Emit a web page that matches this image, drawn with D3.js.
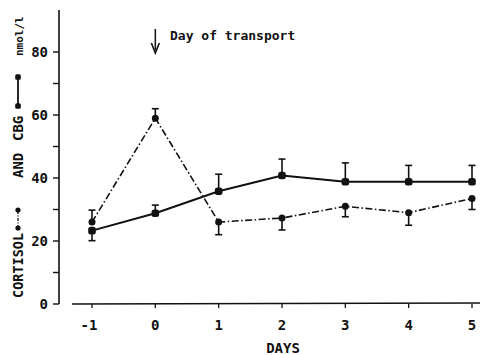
<!DOCTYPE html>
<html>
<head>
<meta charset="utf-8">
<script src="https://cdn.jsdelivr.net/npm/d3@7"></script>
<style>
  body { margin: 0; background: #fff; }
  text { font-family: "DejaVu Sans Mono", monospace; fill: #111; }
</style>
</head>
<body>
<div id="chart"></div>
<script>
var w = 480, h = 355;

// data
var days = [-1, 0, 1, 2, 3, 4, 5];
var cortisol = [26, 59, 26, 27.3, 31, 29, 33.5];
var cortisolErr = [3.8, 3, 4, 3.8, 3.3, 4, 3.5];
var cortisolErrDir = [1, 1, -1, -1, -1, -1, -1];
var cbg = [23.3, 28.8, 35.8, 40.8, 38.8, 38.8, 38.8];
var cbgErr = [3.2, 2.6, 5.4, 5.2, 6, 5.2, 5.2];
var cbgErrDir = [-1, 1, 1, 1, 1, 1, 1];
var yTicks = [0, 20, 40, 60, 80];
var yMinor = [10, 30, 50, 70];

var svg = d3.select('#chart').append('svg')
  .attr('width', w)
  .attr('height', h);

var x = d3.scaleLinear().domain([-1, 5]).range([92, 472]);
var y = d3.scaleLinear().domain([0, 80]).range([304, 52]);

// y axis
svg.append('line')
  .attr('x1', 59).attr('x2', 59)
  .attr('y1', 10).attr('y2', y(0))
  .attr('stroke', '#111').attr('stroke-width', 1.6);

svg.selectAll('.ytick')
  .data(yTicks.concat(yMinor))
  .enter().append('line')
  .attr('x1', 53).attr('x2', 59)
  .attr('y1', function(d) { return y(d); })
  .attr('y2', function(d) { return y(d); })
  .attr('stroke', '#111').attr('stroke-width', 1.4);

svg.selectAll('.ylab')
  .data(yTicks)
  .enter().append('text')
  .attr('x', 48)
  .attr('y', function(d) { return y(d) + 5; })
  .attr('text-anchor', 'end')
  .attr('font-size', 14)
  .attr('font-weight', 'bold')
  .text(function(d) { return d; });

// x axis, drawn apart from the y axis
svg.append('line')
  .attr('x1', 72).attr('x2', 480)
  .attr('y1', 304).attr('y2', 303)
  .attr('stroke', '#111').attr('stroke-width', 1.6);

svg.selectAll('.xtick')
  .data(days)
  .enter().append('line')
  .attr('x1', function(d) { return x(d); })
  .attr('x2', function(d) { return x(d); })
  .attr('y1', 304).attr('y2', 308)
  .attr('stroke', '#111').attr('stroke-width', 1.3);

svg.selectAll('.xlab')
  .data(days)
  .enter().append('text')
  .attr('x', function(d) { return x(d) - (d < 0 ? 3 : 0); })
  .attr('y', 330)
  .attr('text-anchor', 'middle')
  .attr('font-size', 14)
  .attr('font-weight', 'bold')
  .text(function(d) { return d < 0 ? '-' + Math.abs(d) : d; });

svg.append('text')
  .attr('x', 283).attr('y', 353)
  .attr('text-anchor', 'middle')
  .attr('font-size', 14)
  .attr('font-weight', 'bold')
  .text('DAYS');

// arrow and note
svg.append('line')
  .attr('x1', x(0)).attr('x2', x(0))
  .attr('y1', 29).attr('y2', 50)
  .attr('stroke', '#111').attr('stroke-width', 1.5);
svg.append('path')
  .attr('d', 'M' + (x(0) - 4) + ',43 L' + x(0) + ',53 L' + (x(0) + 4) + ',43')
  .attr('fill', 'none').attr('stroke', '#111').attr('stroke-width', 1.6);

svg.append('text')
  .attr('x', 170).attr('y', 40)
  .attr('font-size', 13)
  .attr('font-weight', 'bold')
  .text('Day of transport');

// error bars
function errBars(vals, errs, dirs) {
  var g = svg.append('g');
  days.forEach(function(d, i) {
    var y0 = y(vals[i]), y1 = y(vals[i] + dirs[i] * errs[i]);
    g.append('line')
      .attr('x1', x(d)).attr('x2', x(d))
      .attr('y1', y0).attr('y2', y1)
      .attr('stroke', '#111').attr('stroke-width', 1.6);
    g.append('line')
      .attr('x1', x(d) - 3.5).attr('x2', x(d) + 3.5)
      .attr('y1', y1).attr('y2', y1)
      .attr('stroke', '#111').attr('stroke-width', 1.6);
  });
}
errBars(cortisol, cortisolErr, cortisolErrDir);
errBars(cbg, cbgErr, cbgErrDir);

var line = d3.line()
  .x(function(d, i) { return x(days[i]); })
  .y(function(d) { return y(d); });

svg.append('path')
  .datum(cortisol)
  .attr('d', line)
  .attr('fill', 'none')
  .attr('stroke', '#111')
  .attr('stroke-width', 1.6)
  .attr('stroke-dasharray', '7,2.5,1.5,2.5');

svg.append('path')
  .datum(cbg)
  .attr('d', line)
  .attr('fill', 'none')
  .attr('stroke', '#111')
  .attr('stroke-width', 2);

svg.selectAll('.cdot')
  .data(cortisol)
  .enter().append('circle')
  .attr('cx', function(d, i) { return x(days[i]); })
  .attr('cy', function(d) { return y(d); })
  .attr('r', 3.5)
  .attr('fill', '#111');

svg.selectAll('.bdot')
  .data(cbg)
  .enter().append('rect')
  .attr('x', function(d, i) { return x(days[i]) - 3.8; })
  .attr('y', function(d) { return y(d) - 3.8; })
  .attr('width', 7.6).attr('height', 7.6)
  .attr('rx', 2.5)
  .attr('fill', '#111');

// rotated y title with line keys in it
var title = svg.append('g')
  .attr('transform', 'translate(23,300) rotate(-90)');

function titleText(x0, s, size) {
  title.append('text')
    .attr('x', x0).attr('y', 0)
    .attr('font-size', size)
    .attr('font-weight', 'bold')
    .text(s);
}

titleText(2, 'CORTISOL', 13.5);
// cortisol key
title.append('line')
  .attr('x1', 72).attr('x2', 90)
  .attr('y1', -5).attr('y2', -5)
  .attr('stroke', '#111').attr('stroke-width', 1.3)
  .attr('stroke-dasharray', '3,1.5,1,1.5');
title.selectAll('.k1')
  .data([72, 90])
  .enter().append('circle')
  .attr('cx', function(d) { return d; })
  .attr('cy', -5).attr('r', 2.6)
  .attr('fill', '#111');

titleText(122, 'AND', 14);
titleText(159, 'CBG', 14);
// cbg key
title.append('line')
  .attr('x1', 194).attr('x2', 223)
  .attr('y1', -5).attr('y2', -5)
  .attr('stroke', '#111').attr('stroke-width', 1.8);
title.selectAll('.k2')
  .data([194, 223])
  .enter().append('rect')
  .attr('x', function(d) { return d - 2.8; })
  .attr('y', -7.8).attr('width', 5.6).attr('height', 5.6)
  .attr('rx', 1.5)
  .attr('fill', '#111');

titleText(244, 'nmol/l', 11);
</script>
</body>
</html>
